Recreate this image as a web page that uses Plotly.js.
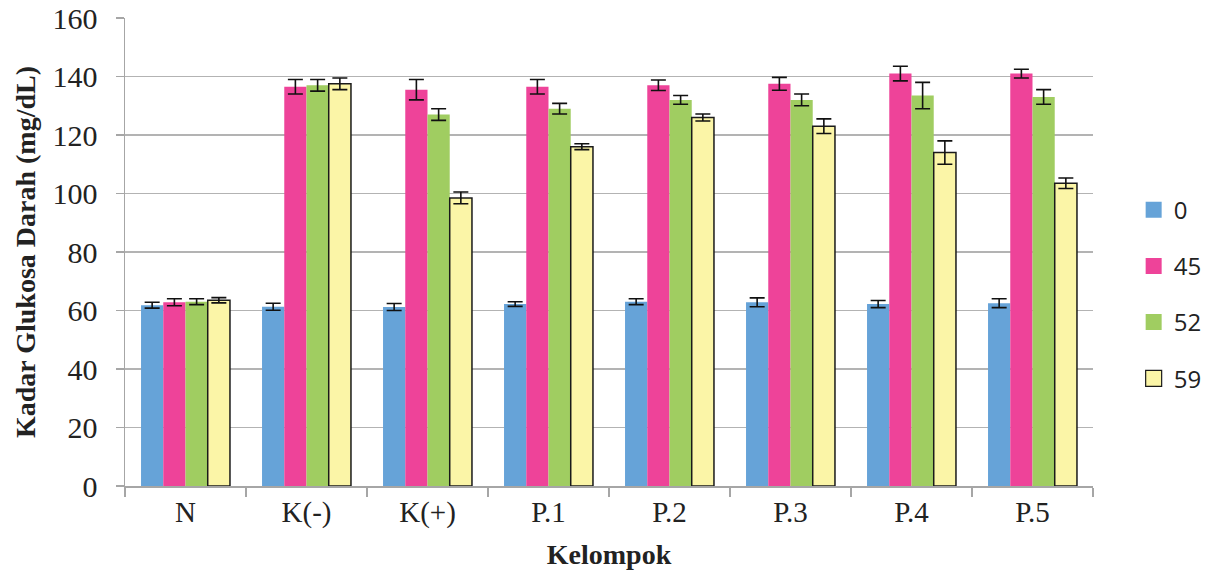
<!DOCTYPE html>
<html>
<head>
<meta charset="utf-8">
<script src="https://cdn.plot.ly/plotly-3.0.1.min.js"></script>
<style>html,body{margin:0;padding:0;background:#fff;}#chart{width:1210px;height:578px;}</style>
</head>
<body>
<div id="chart"></div>
<script>
var categories = ['N', 'K(-)', 'K(+)', 'P.1', 'P.2', 'P.3', 'P.4', 'P.5'];
var seriesNames = ['0', '45', '52', '59'];

var values0  = [61.8, 61.3, 61.2, 62.2, 63.0, 62.8, 62.2, 62.5];
var values45 = [62.8, 136.5, 135.5, 136.5, 137.0, 137.5, 141.0, 141.0];
var values52 = [63.0, 137.0, 127.0, 129.0, 132.0, 132.0, 133.5, 133.0];
var values59 = [63.5, 137.5, 98.5, 116.0, 126.0, 123.0, 114.0, 103.5];

var err0  = [1.0, 1.2, 1.2, 0.8, 1.0, 1.5, 1.2, 1.5];
var err45 = [1.2, 2.5, 3.5, 2.5, 1.8, 2.2, 2.5, 1.5];
var err52 = [1.0, 2.0, 2.0, 1.8, 1.5, 2.0, 4.5, 2.5];
var err59 = [0.9, 2.0, 2.0, 1.0, 1.2, 2.5, 4.0, 1.8];

var colors = ['#66A3D8', '#EE4399', '#A0CD61', '#FBF5A7'];
var lineColors = ['rgba(0,0,0,0)', 'rgba(0,0,0,0)', 'rgba(0,0,0,0)', '#1a1a1a'];
var lineWidths = [0, 0, 0, 1.5];

var allValues = [values0, values45, values52, values59];
var allErr = [err0, err45, err52, err59];

var traces = [];
for (var i = 0; i < 4; i++) {
  traces.push({
    type: 'bar',
    x: categories,
    y: allValues[i],
    name: seriesNames[i],
    showlegend: false,
    marker: {color: colors[i], line: {color: lineColors[i], width: lineWidths[i]}},
    error_y: {type: 'data', array: allErr[i], visible: true, color: '#111', thickness: 1.6, width: 7.5}
  });
}
// legend entries (square swatches)
for (var j = 0; j < 4; j++) {
  traces.push({
    type: 'scatter', mode: 'markers',
    x: [null], y: [null],
    name: seriesNames[j],
    legendgroup: 'g' + j,
    marker: {symbol: 'square', size: 17, color: colors[j], line: {color: j === 3 ? '#1a1a1a' : colors[j], width: j === 3 ? 1.2 : 0}},
    hoverinfo: 'skip'
  });
}

var serif = '"Liberation Serif", "Times New Roman", serif';

var layout = {
  width: 1210, height: 578,
  margin: {l: 125, r: 117, t: 18, b: 92, autoexpand: false},
  paper_bgcolor: '#fff', plot_bgcolor: '#fff',
  barmode: 'group',
  bargap: 0.265,
  bargroupgap: 0,
  showlegend: true,
  legend: {
    x: 1.042, xanchor: 'left', y: 0.41, yanchor: 'middle',
    traceorder: 'grouped', tracegroupgap: 22,
    font: {family: '"Open Sans", "Liberation Sans", sans-serif', size: 24, color: '#222'},
    itemwidth: 30, bgcolor: 'rgba(0,0,0,0)'
  },
  xaxis: {
    type: 'category',
    showline: true, linecolor: '#a6a6a6', linewidth: 1.5,
    ticks: 'outside', tickson: 'boundaries', ticklen: 9, tickcolor: '#a6a6a6', tickwidth: 1.5,
    tickfont: {family: serif, size: 29, color: '#222'},
    title: {text: '<b>Kelompok</b>', font: {family: serif, size: 28, color: '#222'}, standoff: 16},
    showgrid: false, zeroline: false, fixedrange: true
  },
  yaxis: {
    range: [0, 160], dtick: 20, tick0: 0,
    showline: true, linecolor: '#a6a6a6', linewidth: 1.5,
    ticks: 'outside', ticklen: 8, tickcolor: '#a6a6a6', tickwidth: 1.5,
    ticklabelstandoff: 12,
    tickfont: {family: serif, size: 30, color: '#222'},
    showgrid: true, gridcolor: '#b3b3b3', gridwidth: 1.5,
    zeroline: false,
    title: {text: '<b>Kadar Glukosa Darah (mg/dL)</b>', font: {family: serif, size: 28, color: '#222'}, standoff: 8},
    fixedrange: true
  }
};

Plotly.newPlot('chart', traces, layout, {displayModeBar: false, staticPlot: true});
</script>
</body>
</html>
